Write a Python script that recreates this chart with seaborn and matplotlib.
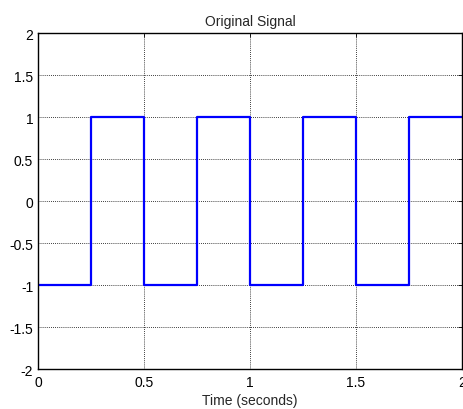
import matplotlib
matplotlib.use("Agg")
import matplotlib.pyplot as plt
import seaborn as sns
import pandas as pd

# Data: square wave edges (seconds) and levels
edges = [0, 0.25, 0.5, 0.75, 1.0, 1.25, 1.5, 1.75, 2.0]
levels = [-1, 1, -1, 1, -1, 1, -1, 1, 1]
xticks = [0, 0.5, 1, 1.5, 2]
yticks = [-2, -1.5, -1, -0.5, 0, 0.5, 1, 1.5, 2]
xtick_labels = ["0", "0.5", "1", "1.5", "2"]
ytick_labels = ["-2", "-1.5", "-1", "-0.5", "0", "0.5", "1", "1.5", "2"]

sns.set_style("white")
plt.rcParams['font.family'] = ['Liberation Sans', 'DejaVu Sans']

df = pd.DataFrame({"t": edges, "v": levels})

fig = plt.figure(figsize=(4.64, 4.10), dpi=100)
ax = fig.add_axes([38/464, 1 - 370/410, (462 - 38)/464, (370 - 34)/410])

sns.lineplot(data=df, x="t", y="v", ax=ax, color=(0, 0, 1), linewidth=1.6,
             drawstyle="steps-post", estimator=None, sort=False)

ax.set_xlim(0, 2)
ax.set_ylim(-2, 2)
ax.set_xticks(xticks)
ax.set_xticklabels(xtick_labels)
ax.set_yticks(yticks)
ax.set_yticklabels(ytick_labels)
ax.grid(True, color="black", linestyle=(0, (1, 1.5)), linewidth=0.6)
ax.tick_params(direction="in", length=3, width=0.6, labelsize=10, colors="black",
               top=True, right=True)
ax.tick_params(axis="x", pad=4)
ax.tick_params(axis="y", pad=3.5)
for s in ax.spines.values():
    s.set_visible(True)
    s.set_color("black")
    s.set_linewidth(1.0)
ax.set_xlabel("Time (seconds)", fontsize=10, labelpad=3)
ax.set_ylabel("")
ax.set_title("Original Signal", fontsize=10, pad=6)

fig.savefig("out.png", dpi=100, facecolor="white")
